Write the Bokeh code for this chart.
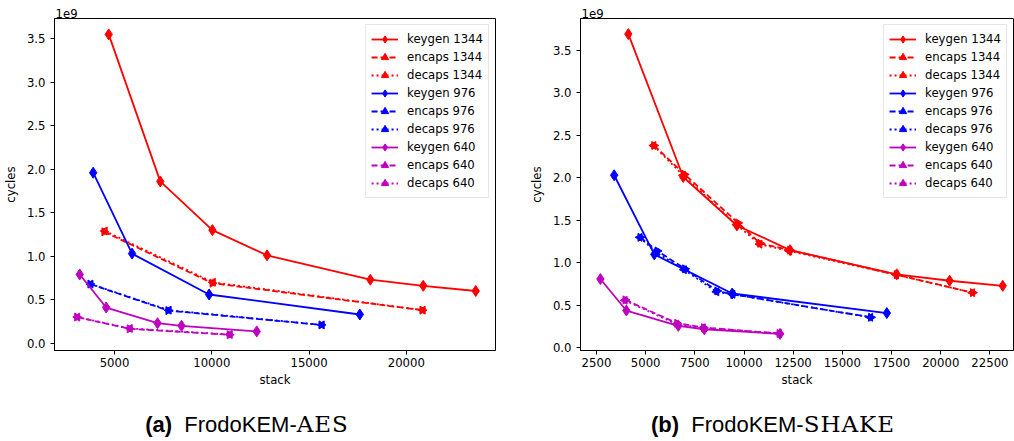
import math
from bokeh.plotting import figure
from bokeh.models import (Range1d, FixedTicker, CustomJSTickFormatter, Title,
                          Legend, LegendItem, Div, ColumnDataSource)
from bokeh.layouts import row, column
from bokeh.embed import file_html
from bokeh.resources import INLINE

# ---------------- data (stack bytes, cycles) ----------------
# (a) FrodoKEM-AES
aes_keygen_1344_x = [4700, 7350, 10030, 12840, 18150, 20870, 23570]
aes_keygen_1344_y = [3.55e9, 1.86e9, 1.30e9, 1.01e9, 0.73e9, 0.66e9, 0.60e9]
aes_encaps_1344_x = [4470, 10030, 20820]
aes_encaps_1344_y = [1.28e9, 0.69e9, 0.38e9]
aes_decaps_1344_x = [4500, 10060, 20850]
aes_decaps_1344_y = [1.29e9, 0.70e9, 0.38e9]
aes_keygen_976_x = [3900, 5900, 9860, 17610]
aes_keygen_976_y = [1.96e9, 1.03e9, 0.56e9, 0.33e9]
aes_encaps_976_x = [3750, 7760, 15630]
aes_encaps_976_y = [0.68e9, 0.375e9, 0.21e9]
aes_decaps_976_x = [3770, 7790, 15660]
aes_decaps_976_y = [0.68e9, 0.38e9, 0.21e9]
aes_keygen_640_x = [3210, 4570, 7210, 8440, 12310]
aes_keygen_640_y = [0.79e9, 0.41e9, 0.23e9, 0.20e9, 0.135e9]
aes_encaps_640_x = [3070, 5770, 10910]
aes_encaps_640_y = [0.30e9, 0.165e9, 0.097e9]
aes_decaps_640_x = [3090, 5790, 10930]
aes_decaps_640_y = [0.30e9, 0.17e9, 0.10e9]

# (b) FrodoKEM-SHAKE
shake_keygen_1344_x = [4120, 6910, 9640, 12340, 17760, 20450, 23150]
shake_keygen_1344_y = [3.69e9, 2.01e9, 1.44e9, 1.15e9, 0.865e9, 0.79e9, 0.73e9]
shake_encaps_1344_x = [5430, 6980, 9700, 10820, 12340, 17760, 21630]
shake_encaps_1344_y = [2.38e9, 2.04e9, 1.47e9, 1.23e9, 1.15e9, 0.86e9, 0.65e9]
shake_decaps_1344_x = [5400, 6900, 9620, 10790, 12300, 17740, 21600]
shake_decaps_1344_y = [2.38e9, 2.03e9, 1.45e9, 1.22e9, 1.14e9, 0.86e9, 0.65e9]
shake_keygen_976_x = [3400, 5440, 9400, 17260]
shake_keygen_976_y = [2.03e9, 1.10e9, 0.64e9, 0.41e9]
shake_encaps_976_x = [4730, 5600, 7000, 8640, 9450, 16450]
shake_encaps_976_y = [1.30e9, 1.14e9, 0.93e9, 0.67e9, 0.63e9, 0.36e9]
shake_decaps_976_x = [4700, 5560, 6950, 8600, 9420, 16420]
shake_decaps_976_y = [1.30e9, 1.12e9, 0.92e9, 0.66e9, 0.63e9, 0.36e9]
shake_keygen_640_x = [2700, 4020, 6660, 7980, 11830]
shake_keygen_640_y = [0.81e9, 0.44e9, 0.26e9, 0.22e9, 0.165e9]
shake_encaps_640_x = [3970, 6600, 7950, 11800]
shake_encaps_640_y = [0.565e9, 0.29e9, 0.24e9, 0.17e9]
shake_decaps_640_x = [3940, 6560, 7920, 11780]
shake_decaps_640_y = [0.56e9, 0.28e9, 0.235e9, 0.17e9]

labels = ["keygen 1344", "encaps 1344", "decaps 1344",
          "keygen 976", "encaps 976", "decaps 976",
          "keygen 640", "encaps 640", "decaps 640"]
y_ticks = [0.0, 0.5e9, 1.0e9, 1.5e9, 2.0e9, 2.5e9, 3.0e9, 3.5e9]
aes_x_ticks = [5000, 10000, 15000, 20000]
shake_x_ticks = [2500, 5000, 7500, 10000, 12500, 15000, 17500, 20000, 22500]

aes_series = [(aes_keygen_1344_x, aes_keygen_1344_y), (aes_encaps_1344_x, aes_encaps_1344_y),
              (aes_decaps_1344_x, aes_decaps_1344_y), (aes_keygen_976_x, aes_keygen_976_y),
              (aes_encaps_976_x, aes_encaps_976_y), (aes_decaps_976_x, aes_decaps_976_y),
              (aes_keygen_640_x, aes_keygen_640_y), (aes_encaps_640_x, aes_encaps_640_y),
              (aes_decaps_640_x, aes_decaps_640_y)]
shake_series = [(shake_keygen_1344_x, shake_keygen_1344_y), (shake_encaps_1344_x, shake_encaps_1344_y),
                (shake_decaps_1344_x, shake_decaps_1344_y), (shake_keygen_976_x, shake_keygen_976_y),
                (shake_encaps_976_x, shake_encaps_976_y), (shake_decaps_976_x, shake_decaps_976_y),
                (shake_keygen_640_x, shake_keygen_640_y), (shake_encaps_640_x, shake_encaps_640_y),
                (shake_decaps_640_x, shake_decaps_640_y)]

COLORS = ["#ff0000", "#0000ff", "#bf00bf"]
FONT = "DejaVu Sans"
FS = "11.7px"


def make_panel(series, x_ticks, x_range, y_range, width, mb_left, mb_right):
    p = figure(width=width, height=390, output_backend="svg", toolbar_location=None,
               x_range=Range1d(*x_range), y_range=Range1d(*y_range),
               min_border_left=mb_left, min_border_right=mb_right,
               min_border_top=18, min_border_bottom=40,
               background_fill_color="white", border_fill_color="white")
    p.margin = 0
    p.grid.visible = False
    p.outline_line_color = "black"
    p.outline_line_width = 1
    p.xaxis.ticker = FixedTicker(ticks=x_ticks)
    p.yaxis.ticker = FixedTicker(ticks=y_ticks)
    p.yaxis.formatter = CustomJSTickFormatter(code="return (tick/1e9).toFixed(1);")
    p.xaxis.axis_label = "stack"
    p.yaxis.axis_label = "cycles"
    for ax in (p.xaxis, p.yaxis):
        ax.axis_line_color = "black"
        ax.major_tick_line_color = "black"
        ax.major_tick_out = 4
        ax.major_tick_in = 0
        ax.minor_tick_line_color = None
        ax.major_label_text_font = FONT
        ax.major_label_text_font_size = FS
        ax.major_label_text_color = "black"
        ax.axis_label_text_font = FONT
        ax.axis_label_text_font_size = FS
        ax.axis_label_text_font_style = "normal"
        ax.axis_label_text_color = "black"
    p.xaxis.major_label_standoff = 3
    p.xaxis.axis_label_standoff = 3
    p.yaxis.major_label_standoff = 5
    p.yaxis.axis_label_standoff = 6

    items = []
    for i, (xs, ys) in enumerate(series):
        color = COLORS[i // 3]
        kind = i % 3
        if kind == 0:
            dash, marker, ang, size = "solid", "diamond", 0.0, 11
        elif kind == 1:
            dash, marker, ang, size = "6 3", "triangle", -90.0, 8
        else:
            dash, marker, ang, size = "2 3", "triangle", 90.0, 8
        src = ColumnDataSource(dict(x=xs, y=ys, ang=[ang] * len(xs)))
        rl = p.line("x", "y", source=src, line_color=color, line_width=1.8, line_dash=dash)
        rs = p.scatter("x", "y", source=src, marker=marker, angle="ang", angle_units="deg",
                       size=size, fill_color=color, line_color=color, line_width=1)
        items.append(LegendItem(label=labels[i], renderers=[rl, rs]))

    legend = Legend(items=items, location="top_right", margin=6, padding=5,
                    spacing=0, glyph_width=27, glyph_height=18, label_height=18,
                    label_standoff=9, label_text_font=FONT, label_text_font_size=FS,
                    label_text_color="black", border_line_color="#cccccc",
                    border_line_width=1, background_fill_alpha=0.8)
    p.add_layout(legend)

    p.add_layout(Title(text="1e9", align="left", text_font=FONT, text_font_size=FS,
                       text_font_style="normal", text_color="black",
                       standoff=2, offset=1), "above")
    return p


p1 = make_panel(aes_series, aes_x_ticks, (1912, 24586), (-0.084e9, 3.733e9),
                526, 52, 31)
p2 = make_panel(shake_series, shake_x_ticks, (1689, 23697), (-0.030e9, 3.873e9),
                488, 53, 1)

cap_style = ("text-align:center;font-family:'Liberation Sans';font-size:22px;"
             "line-height:24px;color:#000;padding-top:22px;white-space:nowrap;")
serif = "font-family:'DejaVu Serif';letter-spacing:1px;font-size:23px;"
d1 = Div(text=f'<div style="width:494px;{cap_style}"><b>(a)</b>&nbsp;&nbsp;FrodoKEM-'
              f'<span style="{serif}">AES</span></div>', width=526, height=51, margin=0)
d2 = Div(text=f'<div style="width:494px;{cap_style}"><b>(b)</b>&nbsp;&nbsp;FrodoKEM-'
              f'<span style="{serif}">SHAKE</span></div>', width=488, height=51, margin=0)

layout = column(row(p1, p2, spacing=0, margin=0), row(d1, d2, spacing=0, margin=0),
                spacing=0, margin=0)

open("out.html", "w").write(file_html(layout, INLINE))
